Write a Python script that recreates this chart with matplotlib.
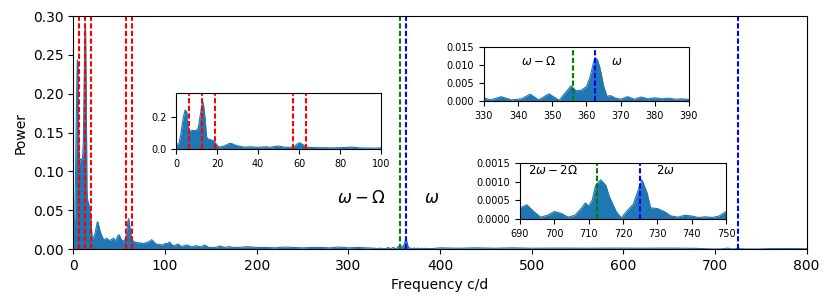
import matplotlib
matplotlib.use("Agg")
import matplotlib.pyplot as plt  # noqa: E402
import numpy as np  # noqa: E402

# periodogram (frequency c/d, power)
freq_low = [0.3, 1.0, 1.5, 2.3, 3.0, 3.6, 4.4, 5.2, 6.0, 6.8, 7.8, 8.9, 10.1,
            10.9, 11.7, 12.7, 13.3, 14.1, 14.9, 15.7, 16.5, 17.3, 18.1, 19.4,
            20.3, 21.3, 22.5, 23.7, 25.0, 26.2, 27.2, 28.1, 29.5, 31.1, 32.7,
            34.3, 36.4, 38.0, 39.2, 41.5, 44.1, 45.7, 47.5, 49.0, 50.3, 51.5,
            53.5, 55.6, 57.5, 58.6, 59.6, 60.4, 61.3, 62.5, 63.7, 65.5, 67.0,
            70.0, 73.0, 76.0, 79.0, 82.0, 85.5, 88.0, 91.0, 94.0, 97.0, 100.0]
pow_low = [0.030, 0.030, 0.036, 0.088, 0.150, 0.200, 0.243, 0.235, 0.140,
           0.110, 0.116, 0.115, 0.117, 0.135, 0.200, 0.283, 0.289, 0.200,
           0.075, 0.062, 0.060, 0.055, 0.052, 0.035, 0.018, 0.012, 0.016,
           0.020, 0.028, 0.035, 0.034, 0.028, 0.022, 0.017, 0.013, 0.012,
           0.014, 0.012, 0.011, 0.012, 0.014, 0.010, 0.014, 0.018, 0.018,
           0.014, 0.011, 0.010, 0.016, 0.025, 0.036, 0.039, 0.032, 0.022,
           0.012, 0.010, 0.009, 0.008, 0.008, 0.007, 0.008, 0.009, 0.012,
           0.009, 0.006, 0.006, 0.005, 0.007]

freq_mid = [103, 105, 108, 110, 113, 115, 118, 120, 123, 125, 128, 130, 133,
            135, 138, 140, 143, 145, 148, 150, 155, 160, 165, 170, 175, 180,
            190, 200, 210, 220, 230, 240, 250, 260, 270, 280, 290, 300, 310,
            320, 326]
pow_mid = [0.007, 0.009, 0.005, 0.004, 0.006, 0.006, 0.003, 0.004, 0.005,
           0.005, 0.003, 0.003, 0.004, 0.004, 0.003, 0.003, 0.005, 0.004,
           0.002, 0.002, 0.002, 0.004, 0.002, 0.003, 0.002, 0.002, 0.003,
           0.002, 0.002, 0.0015, 0.0025, 0.002, 0.0015, 0.002, 0.002, 0.0015,
           0.0025, 0.0015, 0.002, 0.0015, 0.0012]

freq_omega = [330, 332, 335, 338, 341, 343.5, 346, 349, 352, 354, 355.5, 357,
              358.5, 360, 361, 362, 362.5, 363.2, 364, 365, 366, 367, 368.5,
              370, 372, 374, 376, 378, 380, 382, 384, 386, 388, 390]
pow_omega = [0.0008, 0.0003, 0.0012, 0.0003, 0.0006, 0.0019, 0.0003, 0.0020,
             0.0002, 0.0025, 0.0042, 0.0028, 0.0030, 0.0040, 0.0065, 0.0105,
             0.0120, 0.0115, 0.0090, 0.0042, 0.0013, 0.0015, 0.0008, 0.0005,
             0.0012, 0.0005, 0.0011, 0.0006, 0.0009, 0.0006, 0.0008, 0.0005,
             0.0006, 0.0004]

freq_gap = [400, 420, 440, 460, 480, 500, 530, 560, 590, 620, 650, 680]
pow_gap = [0.0015, 0.0010, 0.0015, 0.0010, 0.0015, 0.0010, 0.0012, 0.0010,
           0.0012, 0.0010, 0.0012, 0.0008]

freq_2omega = [690, 692, 694, 696, 698, 700, 702, 704, 706, 708, 709, 710,
               711, 712, 713.5, 715, 716, 718, 719.5, 721, 723, 724.5, 725.5,
               727, 728, 730, 732, 734, 736, 738, 740, 742, 744, 746, 748, 750]
pow_2omega = [0.00030, 0.00038, 0.00020, 0.00005, 0.00010, 0.00020, 0.00015,
              0.00005, 0.00010, 0.00030, 0.00043, 0.00035, 0.00050, 0.00090,
              0.00105, 0.00090, 0.00060, 0.00020, 0.00003, 0.00020, 0.00040,
              0.00080, 0.00105, 0.00070, 0.00030, 0.00028, 0.00020, 0.00008,
              0.00005, 0.00010, 0.00008, 0.00004, 0.00006, 0.00004, 0.00008,
              0.00020]

freq_high = [760, 780, 800]
pow_high = [0.0005, 0.0006, 0.0004]

freq = np.concatenate([freq_low, freq_mid, freq_omega, freq_gap, freq_2omega, freq_high])
power = np.concatenate([pow_low, pow_mid, pow_omega, pow_gap, pow_2omega, pow_high])

# marked frequencies
OMEGA = 362.5
SPIN_ORB = 356.15
harmonics = [6.35, 12.7, 19.05, 57.15, 63.5]

DASH = (0, (2.5, 1.15))
C = "#1f77b4"


def spectrum(ax, lo, hi):
    m = (freq >= lo) & (freq <= hi)
    ax.fill_between(freq[m], power[m], color=C, lw=0)
    ax.plot(freq[m], power[m], color=C, lw=0.8)
    ax.set_xlim(lo, hi)


fig = plt.figure(figsize=(8.31, 3.04), dpi=100)

ax = fig.add_axes([0.0882, 0.1809, 0.8825, 0.7664])
spectrum(ax, 0, 800)
ax.set_ylim(0, 0.30)
ax.set_xticks(np.arange(0, 801, 100))
ax.set_yticks(np.arange(0, 0.301, 0.05))
ax.yaxis.set_major_formatter(matplotlib.ticker.FormatStrFormatter("%.2f"))
for h in harmonics:
    ax.axvline(h, color="red", ls=DASH, lw=1.5)
ax.axvline(SPIN_ORB, color="green", ls=DASH, lw=1.5)
ax.axvline(OMEGA, color="blue", ls=DASH, lw=1.5)
ax.axvline(2 * OMEGA, color="blue", ls=DASH, lw=1.5)
ax.text(314, 0.066, r"$\omega-\Omega$", fontsize=12, ha="center", va="center")
ax.text(391, 0.066, r"$\omega$", fontsize=12, ha="center", va="center")
ax.set_xlabel("Frequency c/d")
ax.set_ylabel("Power")

# inset: low frequencies
a1 = fig.add_axes([0.2118, 0.5099, 0.2467, 0.1842])
spectrum(a1, 0, 100)
a1.set_ylim(0, 0.35)
a1.set_yticks([0.0, 0.2])
a1.set_xticks(np.arange(0, 101, 20))
for h in harmonics:
    a1.axvline(h, color="red", ls=DASH, lw=1.5)
a1.tick_params(labelsize=7)

# inset: omega
a2 = fig.add_axes([0.5824, 0.6678, 0.2467, 0.1776])
spectrum(a2, 330, 390)
a2.set_ylim(0, 0.015)
a2.set_yticks([0, 0.005, 0.010, 0.015])
a2.yaxis.set_major_formatter(matplotlib.ticker.FormatStrFormatter("%.3f"))
a2.axvline(SPIN_ORB, color="green", ls=DASH, lw=1.5)
a2.axvline(OMEGA, color="blue", ls=DASH, lw=1.5)
a2.text(345.8, 0.0109, r"$\omega-\Omega$", fontsize=8.5, ha="center", va="center")
a2.text(368.8, 0.0109, r"$\omega$", fontsize=8.5, ha="center", va="center")
a2.tick_params(labelsize=7)

# inset: 2 omega
a3 = fig.add_axes([0.6258, 0.2796, 0.2479, 0.1842])
spectrum(a3, 690, 750)
a3.set_ylim(0, 0.0015)
a3.set_yticks([0, 0.0005, 0.0010, 0.0015])
a3.yaxis.set_major_formatter(matplotlib.ticker.FormatStrFormatter("%.4f"))
a3.axvline(2 * SPIN_ORB, color="green", ls=DASH, lw=1.5)
a3.axvline(2 * OMEGA, color="blue", ls=DASH, lw=1.5)
a3.text(699.5, 0.0013, r"$2\omega-2\Omega$", fontsize=8.5, ha="center", va="center")
a3.text(732.2, 0.0013, r"$2\omega$", fontsize=8.5, ha="center", va="center")
a3.tick_params(labelsize=7)

fig.savefig("out.png", dpi=100)
